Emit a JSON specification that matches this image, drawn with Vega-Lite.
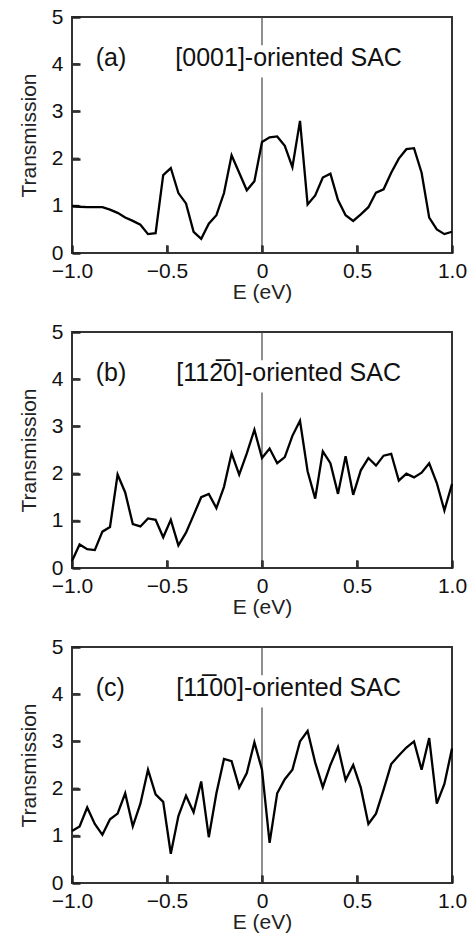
{
  "$schema": "https://vega.github.io/schema/vega-lite/v6.json",
  "autosize": {"type": "pad"},
  "padding": {"left": 17, "top": 5, "right": 5, "bottom": 0},
  "background": "white",
  "datasets": {
    "a": [
      {"E": -1.00, "T": 1.00}, {"E": -0.96, "T": 0.98}, {"E": -0.92, "T": 0.97}, {"E": -0.88, "T": 0.97},
      {"E": -0.84, "T": 0.97}, {"E": -0.80, "T": 0.92}, {"E": -0.76, "T": 0.85}, {"E": -0.72, "T": 0.75},
      {"E": -0.68, "T": 0.68}, {"E": -0.64, "T": 0.60}, {"E": -0.60, "T": 0.40}, {"E": -0.56, "T": 0.42},
      {"E": -0.52, "T": 1.65}, {"E": -0.48, "T": 1.80}, {"E": -0.44, "T": 1.27}, {"E": -0.40, "T": 1.05},
      {"E": -0.36, "T": 0.45}, {"E": -0.32, "T": 0.30}, {"E": -0.28, "T": 0.62}, {"E": -0.24, "T": 0.80},
      {"E": -0.20, "T": 1.27}, {"E": -0.16, "T": 2.07}, {"E": -0.12, "T": 1.70}, {"E": -0.08, "T": 1.33},
      {"E": -0.04, "T": 1.52}, {"E": 0.00, "T": 2.35}, {"E": 0.04, "T": 2.45}, {"E": 0.08, "T": 2.47},
      {"E": 0.12, "T": 2.27}, {"E": 0.16, "T": 1.82}, {"E": 0.20, "T": 2.80}, {"E": 0.24, "T": 1.03},
      {"E": 0.28, "T": 1.22}, {"E": 0.32, "T": 1.60}, {"E": 0.36, "T": 1.68}, {"E": 0.40, "T": 1.12},
      {"E": 0.44, "T": 0.80}, {"E": 0.48, "T": 0.68}, {"E": 0.52, "T": 0.82}, {"E": 0.56, "T": 0.97},
      {"E": 0.60, "T": 1.28}, {"E": 0.64, "T": 1.35}, {"E": 0.68, "T": 1.70}, {"E": 0.72, "T": 2.00},
      {"E": 0.76, "T": 2.20}, {"E": 0.80, "T": 2.22}, {"E": 0.84, "T": 1.70}, {"E": 0.88, "T": 0.75},
      {"E": 0.92, "T": 0.50}, {"E": 0.96, "T": 0.40}, {"E": 1.00, "T": 0.45}
    ],
    "b": [
      {"E": -1.00, "T": 0.15}, {"E": -0.96, "T": 0.50}, {"E": -0.92, "T": 0.40}, {"E": -0.88, "T": 0.38},
      {"E": -0.84, "T": 0.77}, {"E": -0.80, "T": 0.87}, {"E": -0.76, "T": 1.98}, {"E": -0.72, "T": 1.60},
      {"E": -0.68, "T": 0.93}, {"E": -0.64, "T": 0.88}, {"E": -0.60, "T": 1.05}, {"E": -0.56, "T": 1.02},
      {"E": -0.52, "T": 0.65}, {"E": -0.48, "T": 1.02}, {"E": -0.44, "T": 0.48}, {"E": -0.40, "T": 0.75},
      {"E": -0.36, "T": 1.12}, {"E": -0.32, "T": 1.50}, {"E": -0.28, "T": 1.57}, {"E": -0.24, "T": 1.27},
      {"E": -0.20, "T": 1.72}, {"E": -0.16, "T": 2.43}, {"E": -0.12, "T": 1.98}, {"E": -0.08, "T": 2.43},
      {"E": -0.04, "T": 2.93}, {"E": 0.00, "T": 2.33}, {"E": 0.04, "T": 2.53}, {"E": 0.08, "T": 2.22},
      {"E": 0.12, "T": 2.35}, {"E": 0.16, "T": 2.80}, {"E": 0.20, "T": 3.12}, {"E": 0.24, "T": 2.05},
      {"E": 0.28, "T": 1.47}, {"E": 0.32, "T": 2.47}, {"E": 0.36, "T": 2.22}, {"E": 0.40, "T": 1.57},
      {"E": 0.44, "T": 2.37}, {"E": 0.48, "T": 1.55}, {"E": 0.52, "T": 2.07}, {"E": 0.56, "T": 2.33},
      {"E": 0.60, "T": 2.17}, {"E": 0.64, "T": 2.38}, {"E": 0.68, "T": 2.42}, {"E": 0.72, "T": 1.85},
      {"E": 0.76, "T": 2.00}, {"E": 0.80, "T": 1.92}, {"E": 0.84, "T": 2.02}, {"E": 0.88, "T": 2.22},
      {"E": 0.92, "T": 1.80}, {"E": 0.96, "T": 1.22}, {"E": 1.00, "T": 1.78}
    ],
    "c": [
      {"E": -1.00, "T": 1.10}, {"E": -0.96, "T": 1.20}, {"E": -0.92, "T": 1.60}, {"E": -0.88, "T": 1.25},
      {"E": -0.84, "T": 1.02}, {"E": -0.80, "T": 1.35}, {"E": -0.76, "T": 1.47}, {"E": -0.72, "T": 1.90},
      {"E": -0.68, "T": 1.20}, {"E": -0.64, "T": 1.68}, {"E": -0.60, "T": 2.40}, {"E": -0.56, "T": 1.88},
      {"E": -0.52, "T": 1.72}, {"E": -0.48, "T": 0.62}, {"E": -0.44, "T": 1.42}, {"E": -0.40, "T": 1.85},
      {"E": -0.36, "T": 1.50}, {"E": -0.32, "T": 2.15}, {"E": -0.28, "T": 0.97}, {"E": -0.24, "T": 1.90},
      {"E": -0.20, "T": 2.63}, {"E": -0.16, "T": 2.58}, {"E": -0.12, "T": 2.02}, {"E": -0.08, "T": 2.33},
      {"E": -0.04, "T": 2.98}, {"E": 0.00, "T": 2.40}, {"E": 0.04, "T": 0.85}, {"E": 0.08, "T": 1.90},
      {"E": 0.12, "T": 2.20}, {"E": 0.16, "T": 2.40}, {"E": 0.20, "T": 3.00}, {"E": 0.24, "T": 3.22},
      {"E": 0.28, "T": 2.55}, {"E": 0.32, "T": 2.03}, {"E": 0.36, "T": 2.50}, {"E": 0.40, "T": 2.88},
      {"E": 0.44, "T": 2.18}, {"E": 0.48, "T": 2.50}, {"E": 0.52, "T": 2.02}, {"E": 0.56, "T": 1.25},
      {"E": 0.60, "T": 1.47}, {"E": 0.64, "T": 1.98}, {"E": 0.68, "T": 2.52}, {"E": 0.72, "T": 2.70},
      {"E": 0.76, "T": 2.87}, {"E": 0.80, "T": 3.00}, {"E": 0.84, "T": 2.40}, {"E": 0.88, "T": 3.07},
      {"E": 0.92, "T": 1.68}, {"E": 0.96, "T": 2.10}, {"E": 1.00, "T": 2.85}
    ],
    "zeroline": [{"E": 0, "y0": 0, "y1": 3.72}, {"E": 0, "y0": 4.4, "y1": 5}],
    "xticks": [{"E": -0.5}, {"E": 0}, {"E": 0.5}],
    "yticks": [{"T": 1}, {"T": 2}, {"T": 3}, {"T": 4}],
    "la": [{"E": -0.875, "T": 4.13, "label": "(a)"}, {"E": 0.14, "T": 4.13, "label": "[0001]-oriented SAC"}],
    "lb": [{"E": -0.875, "T": 4.13, "label": "(b)"}, {"E": 0.14, "T": 4.13, "label": "[112\u03050]-oriented SAC"}],
    "lc": [{"E": -0.875, "T": 4.13, "label": "(c)"}, {"E": 0.14, "T": 4.13, "label": "[11\u030500]-oriented SAC"}]
  },
  "config": {
    "font": "Liberation Sans",
    "view": {"stroke": "#333", "strokeWidth": 2},
    "axis": {
      "domain": false, "grid": false, "offset": -8, "zindex": 1, "ticks": true,
      "tickColor": "#222", "tickWidth": 2.5, "tickSize": 8, "tickOpacity": 1,
      "labelFont": "Liberation Sans", "labelFontSize": 21, "labelColor": "#111",
      "titleFont": "Liberation Sans", "titleFontSize": 21, "titleFontWeight": "normal", "titleColor": "#222"
    }
  },
  "spacing": 79,
  "bounds": "flush",
  "vconcat": [
    {
      "width": 380, "height": 236,
      "layer": [
        {"data": {"name": "zeroline"}, "mark": {"type": "rule", "color": "#444", "strokeWidth": 1.2},
         "encoding": {"x": {"field": "E", "type": "quantitative"}, "y": {"field": "y0", "type": "quantitative"}, "y2": {"field": "y1"}}},
        {"data": {"name": "xticks"}, "mark": {"type": "rule", "color": "#333", "strokeWidth": 2},
         "encoding": {"x": {"field": "E", "type": "quantitative"}, "y": {"datum": 0, "type": "quantitative"}, "y2": {"datum": 0.16}}},
        {"data": {"name": "yticks"}, "mark": {"type": "rule", "color": "#333", "strokeWidth": 2},
         "encoding": {"y": {"field": "T", "type": "quantitative"}, "x": {"datum": -1, "type": "quantitative"}, "x2": {"datum": -0.963}}},
        {"data": {"name": "a"}, "mark": {"type": "line", "color": "black", "strokeWidth": 2.3},
         "encoding": {
           "x": {"field": "E", "type": "quantitative", "scale": {"domain": [-1, 1], "nice": false},
                 "axis": {"title": "E (eV)", "values": [-1, -0.5, 0, 0.5, 1], "labelExpr": "datum.value == 0 ? '0' : format(datum.value, '.1f')", "labelPadding": 7, "titlePadding": 0, "labelFlush": false}},
           "y": {"field": "T", "type": "quantitative", "scale": {"domain": [0, 5], "nice": false},
                 "axis": {"title": "Transmission", "values": [0, 1, 2, 3, 4, 5], "labelPadding": 9, "titlePadding": 12, "labelFlush": false}}
         }},
        {"data": {"name": "la"}, "transform": [{"filter": "datum.E < -0.5"}], "mark": {"type": "text", "fontSize": 25, "color": "#111", "baseline": "middle", "align": "left"},
         "encoding": {"x": {"field": "E", "type": "quantitative"}, "y": {"field": "T", "type": "quantitative"}, "text": {"field": "label"}}},
        {"data": {"name": "la"}, "transform": [{"filter": "datum.E > -0.5"}], "mark": {"type": "text", "fontSize": 25, "color": "#111", "baseline": "middle", "align": "center"},
         "encoding": {"x": {"field": "E", "type": "quantitative"}, "y": {"field": "T", "type": "quantitative"}, "text": {"field": "label"}}}
      ]
    },
    {
      "width": 380, "height": 236,
      "layer": [
        {"data": {"name": "zeroline"}, "mark": {"type": "rule", "color": "#444", "strokeWidth": 1.2},
         "encoding": {"x": {"field": "E", "type": "quantitative"}, "y": {"field": "y0", "type": "quantitative"}, "y2": {"field": "y1"}}},
        {"data": {"name": "xticks"}, "mark": {"type": "rule", "color": "#333", "strokeWidth": 2},
         "encoding": {"x": {"field": "E", "type": "quantitative"}, "y": {"datum": 0, "type": "quantitative"}, "y2": {"datum": 0.16}}},
        {"data": {"name": "yticks"}, "mark": {"type": "rule", "color": "#333", "strokeWidth": 2},
         "encoding": {"y": {"field": "T", "type": "quantitative"}, "x": {"datum": -1, "type": "quantitative"}, "x2": {"datum": -0.963}}},
        {"data": {"name": "b"}, "mark": {"type": "line", "color": "black", "strokeWidth": 2.3},
         "encoding": {
           "x": {"field": "E", "type": "quantitative", "scale": {"domain": [-1, 1], "nice": false},
                 "axis": {"title": "E (eV)", "values": [-1, -0.5, 0, 0.5, 1], "labelExpr": "datum.value == 0 ? '0' : format(datum.value, '.1f')", "labelPadding": 7, "titlePadding": 0, "labelFlush": false}},
           "y": {"field": "T", "type": "quantitative", "scale": {"domain": [0, 5], "nice": false},
                 "axis": {"title": "Transmission", "values": [0, 1, 2, 3, 4, 5], "labelPadding": 9, "titlePadding": 12, "labelFlush": false}}
         }},
        {"data": {"name": "lb"}, "transform": [{"filter": "datum.E < -0.5"}], "mark": {"type": "text", "fontSize": 25, "color": "#111", "baseline": "middle", "align": "left"},
         "encoding": {"x": {"field": "E", "type": "quantitative"}, "y": {"field": "T", "type": "quantitative"}, "text": {"field": "label"}}},
        {"data": {"name": "lb"}, "transform": [{"filter": "datum.E > -0.5"}], "mark": {"type": "text", "fontSize": 25, "color": "#111", "baseline": "middle", "align": "center"},
         "encoding": {"x": {"field": "E", "type": "quantitative"}, "y": {"field": "T", "type": "quantitative"}, "text": {"field": "label"}}}
      ]
    },
    {
      "width": 380, "height": 236,
      "layer": [
        {"data": {"name": "zeroline"}, "mark": {"type": "rule", "color": "#444", "strokeWidth": 1.2},
         "encoding": {"x": {"field": "E", "type": "quantitative"}, "y": {"field": "y0", "type": "quantitative"}, "y2": {"field": "y1"}}},
        {"data": {"name": "xticks"}, "mark": {"type": "rule", "color": "#333", "strokeWidth": 2},
         "encoding": {"x": {"field": "E", "type": "quantitative"}, "y": {"datum": 0, "type": "quantitative"}, "y2": {"datum": 0.16}}},
        {"data": {"name": "yticks"}, "mark": {"type": "rule", "color": "#333", "strokeWidth": 2},
         "encoding": {"y": {"field": "T", "type": "quantitative"}, "x": {"datum": -1, "type": "quantitative"}, "x2": {"datum": -0.963}}},
        {"data": {"name": "c"}, "mark": {"type": "line", "color": "black", "strokeWidth": 2.3},
         "encoding": {
           "x": {"field": "E", "type": "quantitative", "scale": {"domain": [-1, 1], "nice": false},
                 "axis": {"title": "E (eV)", "values": [-1, -0.5, 0, 0.5, 1], "labelExpr": "datum.value == 0 ? '0' : format(datum.value, '.1f')", "labelPadding": 7, "titlePadding": 0, "labelFlush": false}},
           "y": {"field": "T", "type": "quantitative", "scale": {"domain": [0, 5], "nice": false},
                 "axis": {"title": "Transmission", "values": [0, 1, 2, 3, 4, 5], "labelPadding": 9, "titlePadding": 12, "labelFlush": false}}
         }},
        {"data": {"name": "lc"}, "transform": [{"filter": "datum.E < -0.5"}], "mark": {"type": "text", "fontSize": 25, "color": "#111", "baseline": "middle", "align": "left"},
         "encoding": {"x": {"field": "E", "type": "quantitative"}, "y": {"field": "T", "type": "quantitative"}, "text": {"field": "label"}}},
        {"data": {"name": "lc"}, "transform": [{"filter": "datum.E > -0.5"}], "mark": {"type": "text", "fontSize": 25, "color": "#111", "baseline": "middle", "align": "center"},
         "encoding": {"x": {"field": "E", "type": "quantitative"}, "y": {"field": "T", "type": "quantitative"}, "text": {"field": "label"}}}
      ]
    }
  ]
}
